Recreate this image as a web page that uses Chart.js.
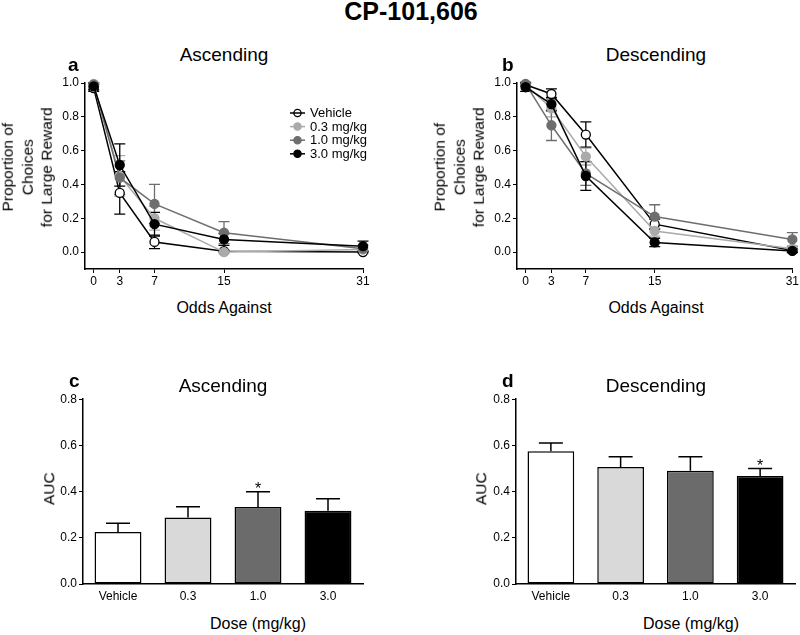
<!DOCTYPE html>
<html><head><meta charset="utf-8">
<script src="https://cdn.jsdelivr.net/npm/chart.js@4.4.0/dist/chart.umd.min.js"></script>
<style>
html,body{margin:0;padding:0;background:#fff;}
body{width:800px;height:635px;position:relative;overflow:hidden;font-family:"Liberation Sans",Arial,sans-serif;color:#000}
canvas{position:absolute}
.t{position:absolute;white-space:nowrap;}
</style></head><body>
<canvas id="ca" width="380" height="219" style="left:0;top:70px"></canvas>
<canvas id="cb" width="370" height="219" style="left:430px;top:70px"></canvas>
<canvas id="cc" width="380" height="214" style="left:0;top:390px"></canvas>
<canvas id="cd" width="370" height="214" style="left:430px;top:390px"></canvas>
<script>
// ---------- data ----------
const odds = [0, 3, 7, 15, 31];
const doseNames = ['Vehicle', '0.3 mg/kg', '1.0 mg/kg', '3.0 mg/kg'];
const barLabels = ['Vehicle', '0.3', '1.0', '3.0'];
const propTicks = [0, 0.2, 0.4, 0.6, 0.8, 1.0];
const aucTicks = [0, 0.2, 0.4, 0.6, 0.8];

// Ascending (panel a)
const ascVehicle    = [0.97, 0.35, 0.06, 0.005, 0.0];
const ascVehicleErr = [0.02, 0.125, 0.04, 0.005, 0.005];
const asc03    = [0.995, 0.45, 0.20, 0.0, 0.015];
const asc03Err = [0.005, 0.12, 0.07, 0.01, 0.01];
const asc10    = [0.99, 0.44, 0.285, 0.115, 0.02];
const asc10Err = [0.01, 0.10, 0.115, 0.065, 0.02];
const asc30    = [0.98, 0.515, 0.165, 0.075, 0.035];
const asc30Err = [0.02, 0.125, 0.07, 0.035, 0.03];

// Descending (panel b)
const descVehicle    = [0.99, 0.935, 0.695, 0.165, 0.01];
const descVehicleErr = [0.01, 0.03, 0.075, 0.03, 0.01];
const desc03    = [0.99, 0.85, 0.565, 0.125, 0.02];
const desc03Err = [0.01, 0.05, 0.05, 0.03, 0.01];
const desc10    = [0.995, 0.75, 0.465, 0.21, 0.075];
const desc10Err = [0.01, 0.09, 0.07, 0.07, 0.04];
const desc30    = [0.975, 0.875, 0.45, 0.057, 0.007];
const desc30Err = [0.025, 0.04, 0.085, 0.025, 0.01];

// AUC (panels c, d)
const aucAsc     = [0.225, 0.288, 0.333, 0.317];
const aucAscErr  = [0.038, 0.046, 0.066, 0.052];
const aucAscSig  = ['', '', '*', ''];
const aucDesc    = [0.575, 0.506, 0.490, 0.468];
const aucDescErr = [0.035, 0.045, 0.061, 0.032];
const aucDescSig = ['', '', '', '*'];

// ---------- styles ----------
const lineColors = ['#000000', '#aaaaaa', '#6e6e6e', '#000000'];
const pointFills = ['#ffffff', '#aaaaaa', '#6e6e6e', '#000000'];
const barFills   = ['#ffffff', '#d9d9d9', '#6b6b6b', '#000000'];
const FONT = '"Liberation Sans", Arial, sans-serif';

Chart.defaults.font.family = FONT;
Chart.defaults.color = '#000';

const errPlugin = {
  id: 'errbars',
  beforeDatasetsDraw(chart) { drawErr(chart, 'line'); },
  afterDatasetsDraw(chart) { drawErr(chart, 'bar'); },
  afterDraw(chart) {
    const lg = chart.options.plugins.customLegend;
    if (!lg || !lg.show) return;
    const ctx = chart.ctx, ca = chart.chartArea;
    ctx.save();
    chart.data.datasets.forEach((ds, i) => {
      const y = ca.top + lg.y0 + i * lg.dy;
      const x0 = ca.left + lg.x0;
      ctx.fillStyle = ds.pointBackgroundColor;
      ctx.strokeStyle = ds.borderColor;
      ctx.lineWidth = 1.3;
      ctx.beginPath(); ctx.arc(x0 + 7.5, y, 3.6, 0, Math.PI * 2); ctx.fill(); ctx.stroke();
      ctx.lineWidth = 1.5;
      ctx.beginPath(); ctx.moveTo(x0, y); ctx.lineTo(x0 + 15, y); ctx.stroke();
      ctx.fillStyle = '#000';
      ctx.font = '13px ' + FONT;
      ctx.textBaseline = 'middle';
      ctx.textAlign = 'left';
      ctx.fillText(ds.label, x0 + 20, y + 0.5);
    });
    ctx.restore();
  }
};
function drawErr(chart, kind) {
  const ctx = chart.ctx, ys = chart.scales.y;
  chart.data.datasets.forEach((ds, i) => {
    if (!ds.errors) return;
    const meta = chart.getDatasetMeta(i);
    if (meta.type !== kind) return;
    ctx.save();
    ctx.strokeStyle = ds.errColor;
    ctx.lineWidth = kind === 'bar' ? 1.5 : 1.3;
    const cap = kind === 'bar' ? 12 : 5.5;
    meta.data.forEach((el, j) => {
      const v = kind === 'bar' ? ds.data[j] : ds.data[j].y;
      const e = ds.errors[j];
      const x = el.x;
      const top = ys.getPixelForValue(v + e);
      const bot = kind === 'bar' ? ys.getPixelForValue(v) : ys.getPixelForValue(v - e);
      ctx.beginPath();
      ctx.moveTo(x, top); ctx.lineTo(x, bot);
      ctx.moveTo(x - cap, top); ctx.lineTo(x + cap, top);
      if (kind === 'line') { ctx.moveTo(x - cap, bot); ctx.lineTo(x + cap, bot); }
      ctx.stroke();
      if (ds.sig && ds.sig[j]) {
        ctx.fillStyle = '#000';
        ctx.font = '16px ' + FONT;
        ctx.textAlign = 'center';
        ctx.textBaseline = 'alphabetic';
        ctx.fillText(ds.sig[j], x, top + 2);
      }
    });
    ctx.restore();
  });
}

function lineDS(label, vals, errs, idx, order) {
  return {
    label: label,
    data: odds.map((o, k) => ({ x: o, y: vals[k] })),
    errors: errs,
    errColor: lineColors[idx],
    borderColor: lineColors[idx],
    backgroundColor: pointFills[idx],
    pointBackgroundColor: pointFills[idx],
    pointBorderColor: lineColors[idx],
    pointRadius: 4.5,
    pointBorderWidth: 1.3,
    borderWidth: 1.5,
    tension: 0,
    clip: false,
    order: order
  };
}
function axisCommon() {
  return {
    grid: { display: true, drawOnChartArea: false, drawTicks: true, tickLength: 4, color: '#000', lineWidth: 1 },
    border: { display: true, color: '#000', width: 1.5 },
  };
}
function lineChart(id, sets, withLegend, padLeft, padRight) {
  new Chart(document.getElementById(id), {
    type: 'line',
    data: { datasets: sets },
    plugins: [errPlugin],
    options: {
      responsive: false, animation: false,
      layout: { padding: { left: padLeft, right: padRight, top: 13, bottom: 0 } },
      plugins: { legend: { display: false }, tooltip: { enabled: false },
        customLegend: { show: withLegend, x0: 205, y0: 30, dy: 13.6 } },
      scales: {
        x: Object.assign(axisCommon(), {
          type: 'linear', min: -1, max: 31,
          afterBuildTicks: s => { s.ticks = odds.map(v => ({ value: v })); },
          afterFit: s => { s.height = 20; },
          ticks: { autoSkip: false, maxRotation: 0, padding: 1, font: { size: 12 }, color: '#000', callback: v => String(v) }
        }),
        y: Object.assign(axisCommon(), {
          type: 'linear', min: -0.1, max: 1.0,
          afterBuildTicks: s => { s.ticks = propTicks.map(v => ({ value: v })); },
          afterFit: s => { s.width = 30; },
          ticks: { padding: 2, font: { size: 12 }, color: '#000', callback: v => Number(v).toFixed(1) }
        })
      }
    }
  });
}
function barChart(id, vals, errs, sig, padLeft, padRight) {
  new Chart(document.getElementById(id), {
    type: 'bar',
    data: {
      labels: barLabels,
      datasets: [{
        data: vals, errors: errs, sig: sig, errColor: '#000',
        backgroundColor: barFills, borderColor: '#000', borderWidth: 1.5,
        categoryPercentage: 1.0, barPercentage: 0.67, borderSkipped: false
      }]
    },
    plugins: [errPlugin],
    options: {
      responsive: false, animation: false,
      layout: { padding: { left: padLeft, right: padRight, top: 9, bottom: 0 } },
      plugins: { legend: { display: false }, tooltip: { enabled: false } },
      scales: {
        x: {
          grid: { display: false, drawTicks: false },
          border: { display: true, color: '#000', width: 1.5 },
          afterFit: s => { s.height = 20; },
          ticks: { padding: 5, font: { size: 12 }, color: '#000', maxRotation: 0 }
        },
        y: Object.assign(axisCommon(), {
          min: 0, max: 0.8,
          afterBuildTicks: s => { s.ticks = aucTicks.map(v => ({ value: v })); },
          afterFit: s => { s.width = 30; },
          ticks: { padding: 2, font: { size: 12 }, color: '#000', callback: v => Number(v).toFixed(1) }
        })
      }
    }
  });
}

lineChart('ca', [
  lineDS(doseNames[0], ascVehicle, ascVehicleErr, 0, 4),
  lineDS(doseNames[1], asc03, asc03Err, 1, 3),
  lineDS(doseNames[2], asc10, asc10Err, 2, 2),
  lineDS(doseNames[3], asc30, asc30Err, 3, 1)
], true, 55, 17);
lineChart('cb', [
  lineDS(doseNames[0], descVehicle, descVehicleErr, 0, 4),
  lineDS(doseNames[1], desc03, desc03Err, 1, 3),
  lineDS(doseNames[2], desc10, desc10Err, 2, 2),
  lineDS(doseNames[3], desc30, desc30Err, 3, 1)
], false, 57, 5);
barChart('cc', aucAsc, aucAscErr, aucAscSig, 53, 17);
barChart('cd', aucDesc, aucDescErr, aucDescSig, 56, 5);

// ---------- text ----------
function txt(s, x, baseline, size, bold, align) {
  const d = document.createElement('div');
  d.className = 't';
  d.textContent = s;
  d.style.fontSize = size + 'px';
  d.style.lineHeight = size + 'px';
  d.style.fontWeight = bold ? 'bold' : 'normal';
  d.style.top = (baseline - 0.8465 * size) + 'px';
  d.style.left = x + 'px';
  if (align !== 'left') d.style.transform = 'translateX(-50%)';
  document.body.appendChild(d);
}
function vtxt(lines, cx, cy, size, lh) {
  const d = document.createElement('div');
  d.className = 't';
  const W = 240, H = lines.length * lh;
  d.style.width = W + 'px'; d.style.height = H + 'px';
  d.style.fontSize = size + 'px'; d.style.lineHeight = lh + 'px';
  d.style.textAlign = 'center';
  d.style.left = (cx - W / 2) + 'px'; d.style.top = (cy - H / 2) + 'px';
  d.style.transform = 'rotate(-90deg)';
  lines.forEach((l, i) => { if (i) d.appendChild(document.createElement('br')); d.appendChild(document.createTextNode(l)); });
  document.body.appendChild(d);
}
txt('CP-101,606', 411, 20, 25, true);
txt('Ascending', 224, 61, 19, false);
txt('Descending', 656, 61, 19, false);
txt('a', 68, 71, 19, true, 'left');
txt('b', 502, 71, 19, true, 'left');
txt('Odds Against', 224, 313.5, 16, false);
txt('Odds Against', 656, 313.5, 16, false);
txt('Ascending', 223, 392, 19, false);
txt('Descending', 656, 392, 19, false);
txt('c', 69, 387, 19, true, 'left');
txt('d', 502, 387, 19, true, 'left');
txt('Dose (mg/kg)', 258, 629.5, 16, false);
txt('Dose (mg/kg)', 691, 629.5, 16, false);
vtxt(['Proportion of', 'Choices', 'for Large Reward'], 26.8, 167, 15.5, 19.5);
vtxt(['Proportion of', 'Choices', 'for Large Reward'], 458.8, 167, 15.5, 19.5);
vtxt(['AUC'], 48.5, 489, 15.5, 19.5);
vtxt(['AUC'], 480.5, 489, 15.5, 19.5);
</script>
</body></html>
